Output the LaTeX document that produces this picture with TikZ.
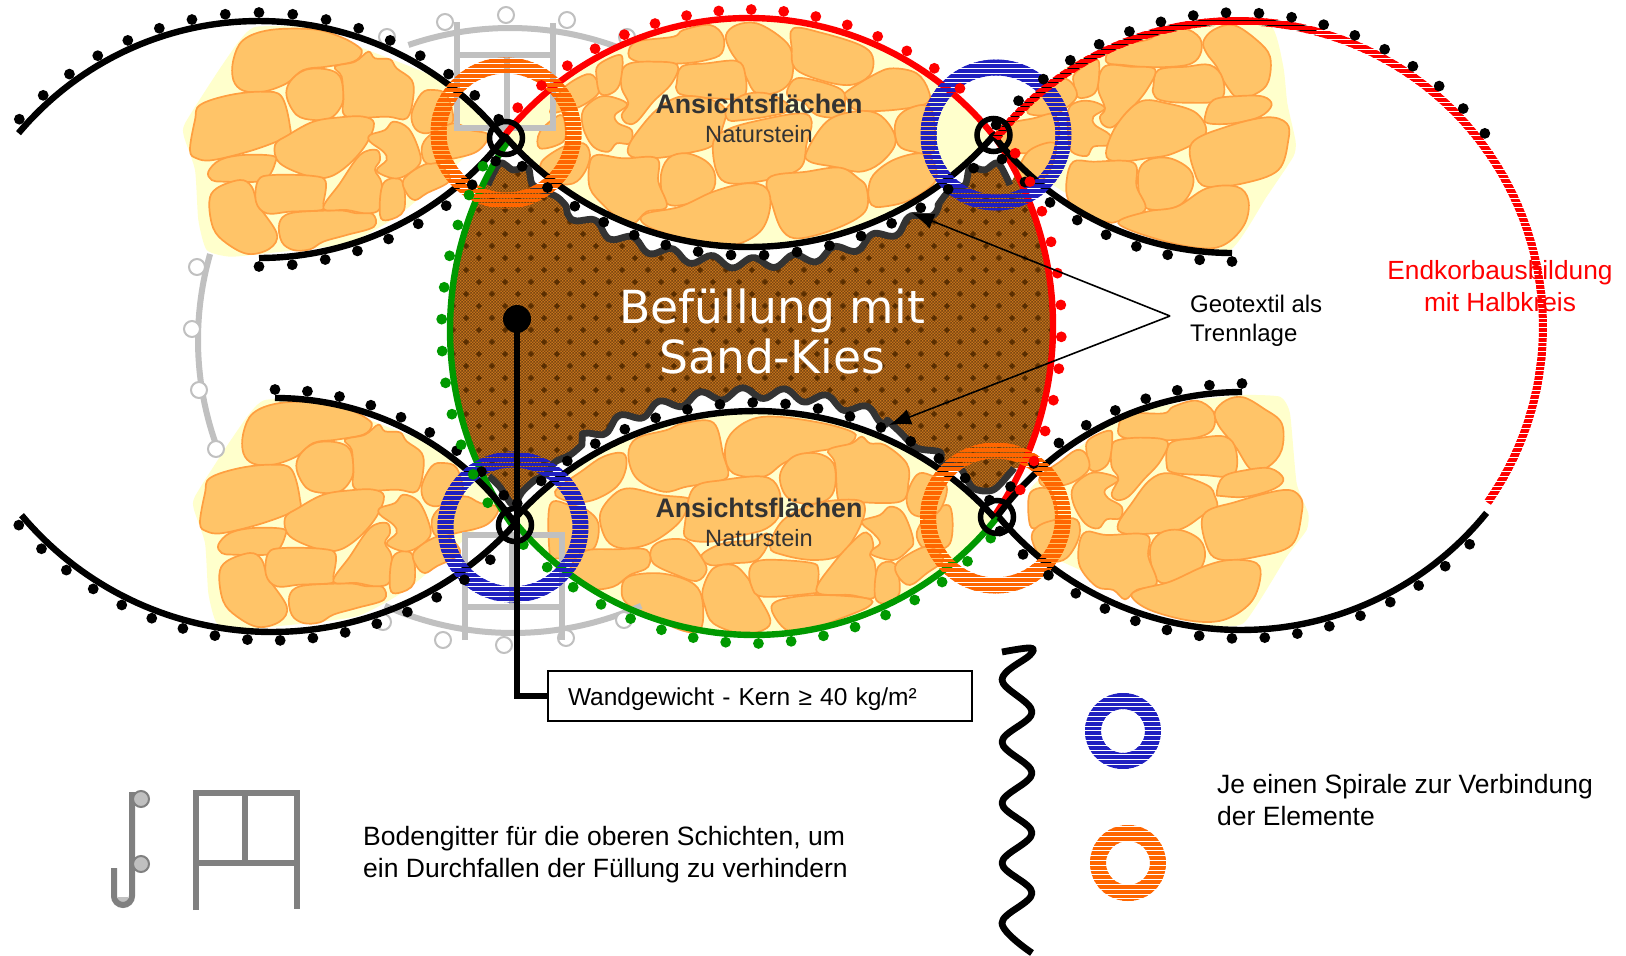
\documentclass[tikz,border=0pt]{standalone}
\usepackage{fontspec}
\setmainfont{Liberation Sans}
\newfontfamily\befont{DejaVu Sans}
\usetikzlibrary{patterns,arrows.meta}
\definecolor{stonefill}{HTML}{FFC468}
\definecolor{stoneline}{HTML}{FF9F40}
\definecolor{creamy}{HTML}{FFFFCC}
\definecolor{grayline}{HTML}{C0C0C0}
\definecolor{legendgray}{HTML}{808080}
\definecolor{ringblue}{HTML}{2020C0}
\definecolor{ringorange}{HTML}{FF6600}
\definecolor{wirered}{HTML}{FF0000}
\definecolor{wiregreen}{HTML}{009900}
\definecolor{brownbase}{HTML}{C4721C}
\definecolor{brownfine}{HTML}{7A4610}
\definecolor{brownspot}{HTML}{5A2E00}
\definecolor{geogray}{HTML}{333333}
\definecolor{labelgray}{HTML}{333333}
\pgfdeclarepatternformonly{ringstripes}{\pgfqpoint{-1pt}{0pt}}{\pgfqpoint{5.8pt}{4.8pt}}{\pgfqpoint{4.8pt}{4.8pt}}{\pgfpathrectangle{\pgfqpoint{-1pt}{0pt}}{\pgfqpoint{6.8pt}{3.7pt}}\pgfusepath{fill}}
\pgfdeclarepatternformonly{finecheck}{\pgfpointorigin}{\pgfqpoint{3.4pt}{3.4pt}}{\pgfqpoint{3.4pt}{3.4pt}}{\pgfpathrectangle{\pgfpointorigin}{\pgfqpoint{1.7pt}{1.7pt}}\pgfpathrectangle{\pgfqpoint{1.7pt}{1.7pt}}{\pgfqpoint{1.7pt}{1.7pt}}\pgfusepath{fill}}
\tikzset{
 stonestyle/.style={fill=stonefill,draw=stoneline,line width=1.7pt},
 wire/.style={line width=6.4pt},
 graywire/.style={line width=6pt,draw=grayline},
 grayring/.style={circle,draw=grayline,fill=white,line width=2pt,minimum size=16pt,inner sep=0pt},
 legendbar/.style={line width=6pt,draw=legendgray},
 legendball/.style={circle,draw=legendgray,fill=grayline,line width=2pt,minimum size=16pt,inner sep=0pt},
 geowave/.style={draw=geogray,line width=6.8pt,line join=round},
 geoarrow/.style={line width=1.6pt,-{Latex[length=22pt,width=16pt]}},
 tlabel/.style={inner sep=0pt,font=\fontsize{26.5}{32}\selectfont,align=left,anchor=west},
}
\newcommand\stone[1]{\filldraw[stonestyle] plot[smooth cycle,tension=.6] coordinates {#1};}
\newcommand\arcpath[5]{plot[domain=#4:#5,samples=70] ({#1+#3*cos(\x)},{#2+#3*sin(\x)})}
\newcommand\arclink[5]{-- plot[domain=#4:#5,samples=70] ({#1+#3*cos(\x)},{#2+#3*sin(\x)})}
\newcommand\dotsonarc[7]{\foreach \t in {#4,#5,...,#6}{\fill[#7] ({#1+(#3+8.5)*cos(\t)},{#2+(#3+8.5)*sin(\t)}) circle (5.4pt);}}
\newcommand\hatchring[3]{\fill[pattern=ringstripes,pattern color=#3,even odd rule] (#1,#2) circle (75.5pt) (#1,#2) circle (59.5pt);}
\newcommand\junction[2]{\draw[black,line width=5.5pt] (#1,#2) circle (16.5pt);}
\newcommand\topwave{plot[smooth] coordinates {(488,185) (500,163) (513,170) (528,168) (533,185) (557,197) (566,206)} -- plot[smooth,domain=122:56,samples=67] ({749+(340+5.5*sin(51.4*\x))*cos(\x)},{-77+(340+5.5*sin(51.4*\x))*sin(\x)}) -- plot[smooth] coordinates {(938,205) (950,190) (965,185) (970,168) (985,170) (998,163) (1010,185)}}
\newcommand\bottomwave[1]{#1 plot[smooth] coordinates {(1014,468) (1010,473) (993,490) (973,488) (960,468) (942,463) (940,452) (917,448) (900,432) (887,420)} -- plot[smooth,domain=293:240,samples=54] ({755+(340+5.5*sin(51.4*\x))*cos(\x)},{733+(340+5.5*sin(51.4*\x))*sin(\x)}) -- plot[smooth] coordinates {(582,445) (570,455) (555,462) (547,474) (535,480) (522,492) (513,505) (500,487) (489,476)}}
\newcommand\groupL{%
\fill[creamy] plot[smooth cycle,tension=.35] coordinates {(230,20) (420,25) (550,85) (780,180) (925,325) (790,470) (650,590) (500,670) (260,700) (150,710) (80,690) (55,600) (45,450) (12,350) (15,310) (110,160) (180,60)};
\stone{(160,180) (160,120) (190,60) (270,30) (400,28) (480,50) (535,80) (545,100) (520,125) (440,140) (370,150) (320,190) (250,215) (190,212)}
\stone{(465,140) (525,125) (565,95) (585,115) (630,118) (650,145) (695,180) (700,230) (680,295) (620,290) (500,290) (490,230) (485,170)}
\stone{(320,230) (330,185) (375,150) (440,148) (480,170) (490,230) (480,265) (450,295) (400,300) (350,285)}
\stone{(60,255) (150,225) (250,215) (305,230) (330,320) (320,350) (220,390) (100,420) (50,415) (30,390) (45,300)}
\stone{(85,455) (120,420) (190,405) (280,408) (285,430) (265,470) (230,485) (130,485) (95,480)}
\stone{(285,375) (325,345) (400,305) (480,292) (550,290) (582,310) (560,370) (510,430) (450,470) (390,470) (300,430)}
\stone{(88,545) (110,505) (180,480) (215,500) (235,555) (290,640) (270,685) (205,702) (140,670) (100,625)}
\stone{(235,480) (280,465) (400,468) (437,485) (430,550) (425,570) (330,575) (260,580) (228,545)}
\stone{(298,610) (330,580) (430,572) (490,572) (530,580) (578,582) (582,620) (500,645) (430,665) (390,688) (340,690) (305,665)}
\stone{(430,565) (480,490) (540,405) (590,390) (600,420) (585,450) (605,490) (600,565) (560,580) (500,570)}
\stone{(610,490) (665,482) (672,570) (625,600) (600,585)}
\stone{(570,345) (615,330) (640,305) (685,325) (715,385) (720,430) (680,465) (640,475) (590,452) (620,420) (610,395) (570,365)}
\stone{(670,480) (720,440) (770,430) (810,480) (740,520) (705,540) (680,520)}
\stone{(695,280) (725,220) (760,210) (800,225) (820,300) (790,320) (740,340) (705,325)}
\stone{(725,385) (750,345) (820,310) (870,330) (925,345) (890,395) (800,420) (740,430)}
}
\begin{document}
\begin{tikzpicture}[x=1pt,y=-1pt]
\useasboundingbox (0,0) rectangle (1626,956);
\fill[white] (0,0) rectangle (1626,956);
% ---- stones ----
\begin{scope}[shift={(180,20)},scale=1/3]\groupL\end{scope}
\begin{scope}[shift={(190,393)},scale=1/3]\groupL\end{scope}
% top middle
\fill[creamy] \arcpath{749}{331}{313}{218}{322} \arclink{749}{-77}{324}{41}{139} -- cycle;
\begin{scope}[shift={(540,15)},scale=1/3]
\stone{(0,350) (60,300) (75,330) (70,380) (0,400)}
\stone{(5,440) (70,395) (130,385) (150,420) (135,470) (100,505) (40,505) (10,480)}
\stone{(30,290) (70,220) (140,178) (170,195) (175,235) (120,275) (60,290)}
\stone{(265,115) (290,80) (400,65) (430,45) (510,30) (550,65) (545,115) (500,135) (430,145) (330,145) (280,135)}
\stone{(558,60) (590,30) (650,25) (720,65) (755,110) (755,190) (715,230) (650,235) (620,190) (600,150) (570,105)}
\stone{(760,40) (850,55) (960,90) (998,125) (990,180) (930,210) (840,195) (765,160) (755,100)}
\stone{(920,230) (1010,175) (1060,160) (1130,175) (1165,225) (1160,265) (1060,285) (950,285) (920,250)}
\stone{(742,225) (770,190) (840,200) (905,225) (915,260) (905,305) (830,300) (790,260) (750,250)}
\stone{(410,205) (425,155) (500,145) (590,138) (615,175) (610,245) (520,250) (430,240) (410,225)}
\stone{(245,170) (270,145) (340,140) (412,150) (395,205) (340,260) (290,320) (260,325) (245,300) (265,265) (245,220)}
\stone{(175,150) (235,120) (248,140) (238,210) (210,237) (180,235) (170,190)}
\stone{(130,285) (180,245) (230,250) (262,270) (225,300) (235,325) (275,345) (270,385) (230,385) (205,410) (160,395) (130,340)}
\stone{(265,395) (300,340) (355,280) (420,245) (500,250) (555,280) (550,330) (520,390) (440,415) (340,430) (275,425)}
\stone{(560,280) (610,240) (680,235) (740,265) (740,290) (680,305) (610,315) (565,315)}
\stone{(520,380) (560,345) (640,320) (780,295) (815,320) (800,385) (780,460) (680,495) (570,505) (530,470)}
\stone{(800,410) (860,320) (940,290) (1010,295) (1055,340) (1065,390) (1020,445) (960,470) (880,455) (810,440)}
\stone{(1065,330) (1090,290) (1150,270) (1180,300) (1180,410) (1120,410) (1075,390)}
\stone{(985,530) (1000,480) (1060,435) (1140,415) (1180,440) (1185,500) (1110,555) (1030,575) (995,570)}
\stone{(685,490) (800,470) (900,458) (955,490) (980,520) (975,590) (890,640) (780,670) (730,650) (700,580)}
\stone{(362,490) (385,430) (440,415) (500,440) (525,480) (515,530) (450,565) (380,565)}
\stone{(148,450) (170,420) (250,430) (350,430) (355,500) (380,575) (320,590) (280,625) (230,605) (190,570) (150,520)}
\stone{(305,620) (320,595) (420,575) (520,530) (620,505) (680,520) (690,580) (660,650) (580,690) (480,680) (360,650)}
\end{scope}
% top right
\begin{scope}[shift={(1000,10)},scale=1/3]
\fill[creamy] plot[smooth cycle,tension=.3] coordinates {(0,370) (200,170) (400,80) (600,40) (810,45) (850,170) (862,280) (887,395) (880,440) (800,560) (690,720) (500,680) (300,610) (150,520) (30,450)};
\stone{(318,140) (345,110) (440,90) (480,70) (550,55) (600,85) (600,135) (560,165) (450,172) (370,165) (325,160)}
\stone{(610,95) (640,60) (700,45) (770,90) (810,140) (805,215) (770,250) (715,265) (675,220) (650,170) (620,130)}
\stone{(460,230) (475,180) (560,170) (630,165) (668,205) (660,270) (550,278) (480,270) (460,250)}
\stone{(300,190) (325,165) (390,170) (465,178) (440,240) (390,300) (340,350) (310,345) (300,320) (315,295) (295,240)}
\stone{(225,190) (285,150) (298,170) (290,240) (260,262) (232,260) (222,225)}
\stone{(85,295) (150,225) (190,205) (220,225) (228,265) (170,310) (100,315)}
\stone{(205,300) (235,275) (280,275) (315,295) (280,320) (285,345) (330,375) (325,405) (280,410) (260,438) (215,425) (205,380)}
\stone{(318,430) (350,345) (420,275) (500,280) (590,310) (615,375) (520,430) (440,445) (350,455)}
\stone{(615,320) (640,270) (720,258) (790,260) (815,285) (780,320) (700,340) (625,340)}
\stone{(575,400) (680,350) (800,322) (860,340) (865,390) (835,480) (730,520) (620,530) (585,490)}
\stone{(415,490) (445,450) (510,445) (570,480) (578,530) (540,585) (470,600) (425,580)}
\stone{(200,510) (220,455) (280,455) (400,458) (410,530) (435,600) (350,635) (320,635) (250,620) (205,570)}
\stone{(355,640) (440,605) (530,590) (620,535) (710,530) (745,570) (735,640) (680,700) (610,715) (480,690)}
\stone{(0,350) (100,325) (165,315) (170,395) (80,430) (0,405)}
\stone{(55,480) (90,420) (165,400) (150,480) (100,530) (60,510)}
\end{scope}
% bottom middle
\fill[creamy] \arcpath{755}{733}{322}{221}{318} \arclink{754}{325}{310}{38}{140} -- cycle;
\begin{scope}[shift={(550,400)},scale=1/3]
\stone{(0,315) (60,315) (110,330) (145,370) (135,440) (85,475) (20,475) (0,470)}
\stone{(1100,400) (1140,340) (1200,320) (1200,430) (1130,450)}
\stone{(15,275) (100,210) (160,170) (220,160) (228,205) (200,260) (130,300) (60,305)}
\stone{(235,165) (260,115) (350,90) (400,70) (490,68) (520,165) (535,225) (500,245) (410,260) (340,275) (260,235)}
\stone{(525,165) (540,105) (600,60) (680,50) (820,70) (905,95) (915,115) (880,140) (770,160) (700,190) (640,230) (550,220)}
\stone{(835,150) (905,130) (935,110) (960,130) (1005,135) (1070,190) (1075,250) (1050,305) (900,305) (865,300) (855,190)}
\stone{(690,225) (730,170) (800,160) (850,190) (855,260) (830,300) (770,312) (710,290)}
\stone{(1070,290) (1100,225) (1140,225) (1190,260) (1170,330) (1130,350) (1085,340)}
\stone{(150,345) (190,285) (240,265) (330,285) (415,295) (415,320) (380,375) (300,430) (220,445) (170,420)}
\stone{(660,440) (700,360) (800,310) (920,300) (945,330) (920,400) (870,465) (790,480) (700,465)}
\stone{(405,370) (430,265) (520,240) (640,230) (685,265) (690,340) (650,385) (580,405) (480,425) (410,415)}
\stone{(940,360) (990,345) (1020,320) (1060,340) (1090,420) (1075,450) (1030,480) (960,460) (990,430) (970,400) (940,375)}
\stone{(455,465) (520,430) (610,420) (650,400) (655,430) (620,480) (550,490) (480,495)}
\stone{(305,445) (345,420) (410,422) (450,465) (470,510) (440,543) (380,525) (310,490)}
\stone{(100,455) (200,448) (290,450) (295,500) (240,525) (190,560) (120,565) (60,520)}
\stone{(215,570) (235,530) (330,520) (420,545) (455,590) (455,680) (410,695) (300,650) (230,610)}
\stone{(458,570) (490,505) (550,495) (590,530) (610,565) (660,655) (640,690) (570,700) (490,670) (465,620)}
\stone{(600,505) (640,480) (780,488) (805,510) (800,570) (790,580) (640,590) (605,560)}
\stone{(800,575) (850,490) (930,405) (960,405) (970,440) (960,465) (975,495) (975,590) (900,585)}
\stone{(985,500) (1035,492) (1048,580) (1005,610) (975,590)}
\stone{(1040,490) (1110,445) (1150,445) (1180,480) (1130,520) (1080,555) (1045,530)}
\stone{(665,630) (690,600) (800,585) (950,595) (955,620) (860,660) (780,690) (710,690)}
\end{scope}
% bottom right
\begin{scope}[shift={(1030,390)},scale=1/3]
\fill[creamy] plot[smooth cycle,tension=.3] coordinates {(0,300) (150,170) (300,70) (500,30) (640,15) (750,20) (780,70) (800,280) (835,370) (830,420) (770,500) (640,700) (500,700) (300,620) (150,540) (40,480)};
\stone{(265,115) (290,72) (400,70) (430,50) (500,32) (550,65) (550,115) (510,140) (430,150) (330,150) (275,140)}
\stone{(555,65) (590,30) (640,22) (700,55) (755,100) (755,180) (715,230) (665,240) (620,175) (600,150) (565,105)}
\stone{(410,225) (420,160) (500,145) (585,140) (618,180) (610,255) (520,255) (430,248)}
\stone{(245,170) (265,150) (340,143) (412,155) (390,215) (340,270) (295,320) (260,330) (245,310) (265,265) (245,230)}
\stone{(175,150) (235,122) (247,140) (238,212) (210,240) (180,238) (170,190)}
\stone{(30,260) (90,215) (140,180) (170,195) (175,240) (120,280) (45,290)}
\stone{(130,290) (180,250) (230,252) (265,270) (225,300) (235,325) (275,350) (270,385) (230,388) (205,415) (165,400) (130,340)}
\stone{(265,400) (305,340) (360,270) (420,250) (530,285) (555,320) (560,355) (520,375) (450,418) (340,432) (275,428)}
\stone{(560,310) (580,260) (650,240) (720,235) (760,265) (735,295) (650,320) (575,318)}
\stone{(520,375) (620,335) (760,300) (810,320) (815,370) (785,465) (680,500) (580,510) (535,480)}
\stone{(360,480) (390,430) (450,420) (510,450) (525,500) (500,550) (440,575) (380,570)}
\stone{(148,460) (170,425) (230,435) (350,435) (355,500) (380,580) (320,600) (285,628) (250,600) (200,590) (150,530)}
\stone{(305,620) (330,598) (420,575) (520,530) (600,510) (680,520) (690,570) (660,640) (580,690) (480,692) (360,660)}
\stone{(0,310) (60,300) (80,380) (30,410) (0,405)}
\stone{(5,440) (40,400) (130,385) (150,420) (135,470) (100,510) (40,510)}
\end{scope}
% ---- gray grid behind ----
\draw[graywire] \arcpath{510}{340}{312}{160.5}{196};
\draw[graywire] \arcpath{510}{340}{312}{251}{290};
\draw[graywire] \arcpath{513}{318}{315}{66}{114};
\node[grayring] (g1) at (387,37) {};
\node[grayring] (g2) at (445,22) {};
\node[grayring] (g3) at (506,15) {};
\node[grayring] (g4) at (567,20) {};
\node[grayring] (g5) at (627,37) {};
\node[grayring] (g6) at (197,267) {};
\node[grayring] (g7) at (192,329) {};
\node[grayring] (g8) at (199,390) {};
\node[grayring] (g9) at (216,449) {};
\node[grayring] (g10) at (383,622) {};
\node[grayring] (g11) at (443,640) {};
\node[grayring] (g12) at (504,645) {};
\node[grayring] (g13) at (566,638) {};
\node[grayring] (g14) at (624,620) {};
\draw[graywire,line join=miter] (457,22) -- (457,128) -- (553,128) -- (553,23) (457,55) -- (553,55) (507,53) -- (507,128);
\draw[graywire,line join=miter] (465,640) -- (465,535) -- (562,535) -- (562,640) (465,607) -- (562,607) (512,533) -- (512,610);
% ---- core fill ----
\begin{scope}
\clip \topwave \arclink{716}{326}{337}{-27}{25} \bottomwave{--} \arclink{787}{330}{337}{154}{206} -- cycle;
\fill[brownbase] (430,130) rectangle (1070,530);
\fill[pattern=finecheck,pattern color=brownfine] (430,130) rectangle (1070,530);
\foreach \r in {0,...,31}{\pgfmathsetmacro\ofs{mod(\r,2)*13}
 \foreach \c in {0,...,24}{\fill[brownspot,shift={({440+\c*26+\ofs},{150+\r*12})}] (-3.2,0) -- (0,-3.2) -- (3.2,0) -- (0,3.2) -- cycle;}}
\end{scope}
\draw[geowave] \topwave;
\draw[geowave] \bottomwave{};
% ---- coloured wires ----
\draw[wire,wirered] \arcpath{749}{331}{313}{218}{322};
\draw[wire,wirered] \arcpath{716}{326}{337}{-35}{34};
\draw[wire,wiregreen] \arcpath{754}{325}{310}{38}{140};
\draw[wire,wiregreen] \arcpath{787}{330}{337}{144}{214};
% ---- black wires ----
\draw[wire,black] \arcpath{259}{335}{314}{220}{321};
\draw[wire,black] \arcpath{749}{-77}{324}{41}{139};
\draw[wire,black] \arcpath{259}{-52}{310}{90}{37};
\draw[wire,black] \arcpath{1232}{-48}{301}{90}{143};
\draw[wire,black] \arcpath{275}{690}{292}{270}{325};
\draw[wire,black] \arcpath{272}{305}{327}{140}{42};
\draw[wire,black] \arcpath{755}{733}{322}{221}{318};
\draw[wire,black] \arcpath{1242}{695}{303}{270}{216};
\draw[wire,black] \arcpath{1241}{314}{316}{140}{39};
\draw[wire,black] \arcpath{1237}{327}{306}{218}{285};
% ---- rings ----
\hatchring{506}{133}{ringorange}
\hatchring{996}{135}{ringblue}
\hatchring{513}{527}{ringblue}
\hatchring{995.5}{518}{ringorange}
% ---- end basket half circle ----
\fill[pattern=ringstripes,pattern color=wirered] \arcpath{1237}{327}{310}{218}{395} \arclink{1237}{327}{302}{395}{218} -- cycle;
% ---- dots ----
\dotsonarc{259}{335}{314}{222}{228}{318}{black}
\dotsonarc{749}{-77}{324}{133}{127.3}{47}{black}
\dotsonarc{259}{-52}{310}{90}{84}{40}{black}
\dotsonarc{1232}{-48}{301}{90}{96}{140}{black}
\dotsonarc{275}{690}{292}{270}{276.2}{325}{black}
\dotsonarc{272}{305}{327}{139}{133.4}{44}{black}
\dotsonarc{755}{733}{322}{224}{229.7}{316}{black}
\dotsonarc{1242}{695}{303}{270}{264}{218}{black}
\dotsonarc{1241}{314}{316}{138}{132.2}{42}{black}
\dotsonarc{1237}{327}{306}{220}{226}{322}{black}
\dotsonarc{749}{331}{313}{224}{229.8}{316}{wirered}
\dotsonarc{716}{326}{337}{-30}{-24.7}{30}{wirered}
\dotsonarc{754}{325}{310}{42}{47.9}{138}{wiregreen}
\dotsonarc{787}{330}{337}{150}{155.3}{210}{wiregreen}
% ---- junction rings ----
\junction{506}{138}
\junction{993.5}{135}
\junction{515}{525}
\junction{997}{517}
% ---- load label ----
\node[circle,fill=black,minimum size=28pt,inner sep=0pt] (wdot) at (517,319) {};
\node[draw=black,line width=2.2pt,fill=white,minimum width=424pt,minimum height=50pt,text width=384pt,inner xsep=20pt,align=left,text height=24pt,text depth=6pt,font=\fontsize{24.5}{30}\selectfont] (wbox) at (760,696) {Wandgewicht - Kern ≥ 40 kg/m²};
\draw[black,line width=6pt] (wdot.center) |- (wbox.west);
% ---- geotextile label ----
\coordinate (geoapex) at (1170,316);
\coordinate (geotip1) at (912,213);
\coordinate (geotip2) at (889,425);
\draw[geoarrow] (geoapex) -- (geotip1);
\draw[geoarrow] (geoapex) -- (geotip2);
\node[tlabel,font=\fontsize{24}{29}\selectfont] (geolabel) at (1190,320.5) {Geotextil als\\Trennlage};
% ---- texts ----
\node[inner sep=0pt,text=labelgray,font=\bfseries\fontsize{26.8}{32}\selectfont] (an1) at (759,104) {Ansichtsflächen};
\node[inner sep=0pt,text=labelgray,font=\fontsize{23.6}{28}\selectfont] (na1) at (759,134) {Naturstein};
\node[inner sep=0pt,text=labelgray,font=\bfseries\fontsize{26.8}{32}\selectfont] (an2) at (759,508) {Ansichtsflächen};
\node[inner sep=0pt,text=labelgray,font=\fontsize{23.6}{28}\selectfont] (na2) at (759,538) {Naturstein};
\node[inner sep=0pt,text=white,align=center,font=\befont\fontsize{45.6}{50}\selectfont] (fill) at (772,331) {Befüllung mit\\Sand-Kies};
\node[inner sep=0pt,text=wirered,align=center,font=\fontsize{26.3}{32}\selectfont] (endk) at (1500,286) {Endkorbausbildung\\mit Halbkreis};
\node[tlabel] (boden) at (363,855) {Bodengitter für die oberen Schichten, um\\ein Durchfallen der Füllung zu verhindern};
\node[tlabel] (spir) at (1217,800) {Je einen Spirale zur Verbindung\\der Elemente};
% ---- legend ----
\draw[black,line width=6.8pt,line join=round] plot[smooth,tension=.6] coordinates {(1002,652) (1030,648) (1030,655) (1002,680) (1032,712) (1002,742) (1032,773) (1002,803) (1032,833) (1002,863) (1032,893) (1002,923) (1032,953)};
\fill[pattern=ringstripes,pattern color=ringblue,even odd rule] (1123,731) circle (38pt) (1123,731) circle (22pt);
\fill[pattern=ringstripes,pattern color=ringorange,even odd rule] (1128,863) circle (38pt) (1128,863) circle (22pt);
\fill[grayline] (118,897) rectangle (128,905);
\draw[legendbar] (114,868) -- (114,896) arc[start angle=180,end angle=360,radius=9pt] -- (132,792);
\node[legendball] (lb1) at (141,799) {};
\node[legendball] (lb2) at (141,864) {};
\draw[legendbar,line join=miter] (196,910) -- (196,793) -- (297,793) -- (297,909) (196,863) -- (297,863) (245,793) -- (245,863);
\end{tikzpicture}
\end{document}
